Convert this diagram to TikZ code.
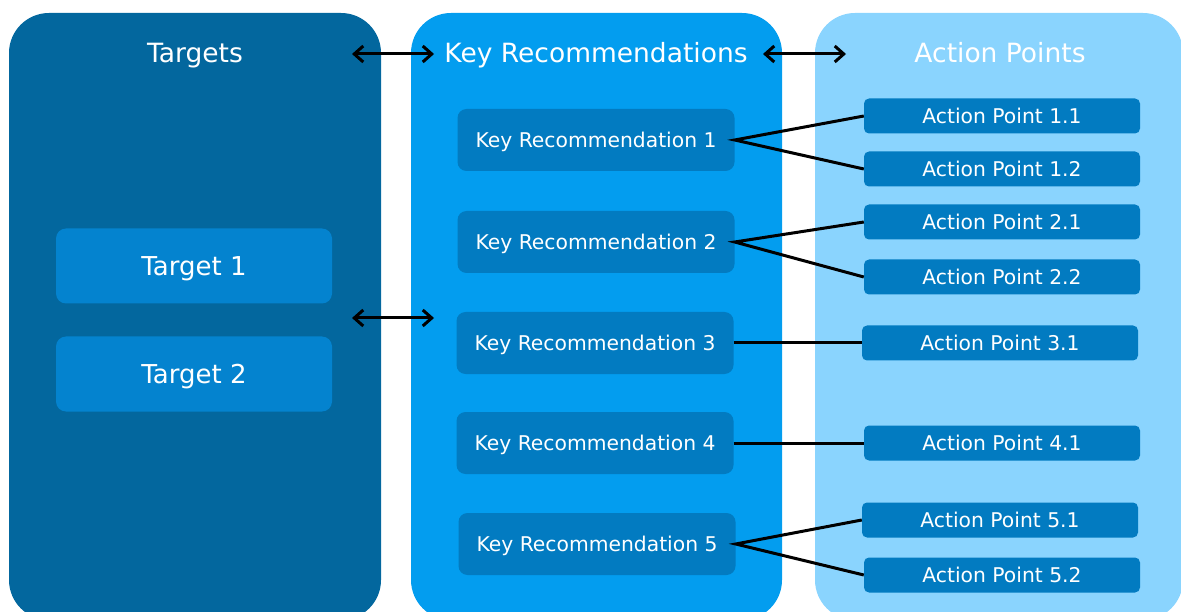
\documentclass[tikz,border=0pt]{standalone}
\usepackage{fontspec}
\setmainfont{DejaVu Sans}
\usepackage{xcolor}
\definecolor{tgtpanel}{HTML}{03679E}
\definecolor{recpanel}{HTML}{039DEF}
\definecolor{actpanel}{HTML}{8AD4FE}
\definecolor{tgtfill}{HTML}{0483CF}
\definecolor{boxfill}{HTML}{027BC1}
\usetikzlibrary{arrows.meta}

\begin{document}
\begin{tikzpicture}[x=1pt, y=-1pt,
    panel/.style={rounded corners=40pt},
    capmid/.style={text height=#1, text depth=0pt},
    title/.style={capmid=19.3pt, text=white, font=\fontsize{26.5}{30}\selectfont},
    tgtbox/.style={capmid=19pt, fill=tgtfill, rounded corners=10pt, minimum width=276pt,
      minimum height=75pt, text=white, font=\fontsize{26}{30}\selectfont},
    recbox/.style={capmid=14.8pt, fill=boxfill, rounded corners=9pt, minimum width=277pt,
      minimum height=62pt, text=white, font=\fontsize{20.3}{24}\selectfont},
    actbox/.style={capmid=14.8pt, fill=boxfill, rounded corners=5pt, minimum width=276pt,
      minimum height=35pt, text=white, font=\fontsize{20.3}{24}\selectfont},
    link/.style={draw=black, line width=3pt},
    flow/.style={draw=black, line width=3pt,
      {Straight Barb[length=9pt,width=16pt]}-{Straight Barb[length=9pt,width=16pt]}}]
  \useasboundingbox (0,0) rectangle (1181,612);
  \clip (0,0) rectangle (1181,612);
  % the three columns
  \fill[panel, tgtpanel] (9,13) rectangle (381,620);
  \fill[panel, recpanel] (411,13) rectangle (782,620);
  \fill[panel, actpanel] (815,13) rectangle (1183,620);
  \node[title] (tgttitle) at (195,53) {Targets};
  \node[title] (rectitle) at (596,53) {Key Recommendations};
  \node[title] (acttitle) at (1000,53) {Action Points};
  % targets
  \node[tgtbox] (t1) at (194,266) {Target 1};
  \node[tgtbox] (t2) at (194,374) {Target 2};
  % key recommendations
  \node[recbox] (kr1) at (596,140) {Key Recommendation 1};
  \node[recbox] (kr2) at (596,242) {Key Recommendation 2};
  \node[recbox] (kr3) at (595,343) {Key Recommendation 3};
  \node[recbox] (kr4) at (595,443) {Key Recommendation 4};
  \node[recbox] (kr5) at (597,544) {Key Recommendation 5};
  % action points
  \node[actbox] (ap11) at (1002,116) {Action Point 1.1};
  \node[actbox] (ap12) at (1002,169) {Action Point 1.2};
  \node[actbox] (ap21) at (1002,222) {Action Point 2.1};
  \node[actbox] (ap22) at (1002,277) {Action Point 2.2};
  \node[actbox] (ap31) at (1000,343) {Action Point 3.1};
  \node[actbox] (ap41) at (1002,443) {Action Point 4.1};
  \node[actbox] (ap51) at (1000,520) {Action Point 5.1};
  \node[actbox] (ap52) at (1002,575) {Action Point 5.2};
  % links
  \draw[link] (ap11.west) -- (kr1.east) -- (ap12.west);
  \draw[link] (ap21.west) -- (kr2.east) -- (ap22.west);
  \draw[link] (kr3.east) -- (ap31.west);
  \draw[link] (kr4.east) -- (ap41.west);
  \draw[link] (ap51.west) -- (kr5.east) -- (ap52.west);
  % arrows between columns
  \coordinate (a1) at (352,54);
  \coordinate (a2) at (434,54);
  \coordinate (a3) at (763,54);
  \coordinate (a4) at (846,54);
  \coordinate (a5) at (352,318);
  \coordinate (a6) at (434,318);
  \draw[flow] (a1) -- (a2);
  \draw[flow] (a3) -- (a4);
  \draw[flow] (a5) -- (a6);
\end{tikzpicture}
\end{document}
